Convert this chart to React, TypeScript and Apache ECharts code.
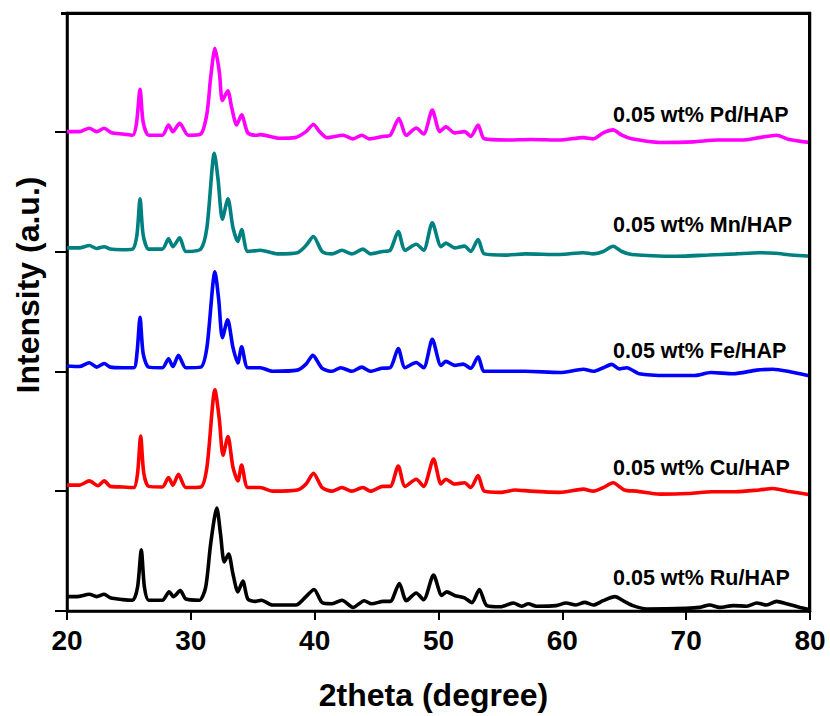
import React, { useEffect, useRef } from "react";
import * as echarts from "echarts";

const seriesNames = [
  "0.05 wt% Ru/HAP",
  "0.05 wt% Cu/HAP",
  "0.05 wt% Fe/HAP",
  "0.05 wt% Mn/HAP",
  "0.05 wt% Pd/HAP",
];
const seriesColors = ["#000000", "#FF0000", "#0000FF", "#008080", "#FF00FF"];
const offsets = [0, 1, 2, 3, 4];
const xTicks = [20, 30, 40, 50, 60, 70, 80];

const ru: number[][] = [
  [20, 0.12], [20.8, 0.12], [21.8, 0.14], [22.4, 0.12], [23.0, 0.14], [23.5, 0.11], [24.5, 0.095], [25.3, 0.09],
  [25.7, 0.2], [26.0, 0.51], [26.25, 0.2], [26.6, 0.09], [27.7, 0.09], [28.25, 0.16], [28.6, 0.12], [29.15, 0.17],
  [29.6, 0.1], [30.7, 0.09], [31.2, 0.2], [31.6, 0.56], [32.1, 0.86], [32.4, 0.64], [32.7, 0.41], [33.05, 0.475],
  [33.4, 0.31], [33.8, 0.16], [34.2, 0.25], [34.6, 0.1], [35.2, 0.08], [35.7, 0.09], [36.6, 0.05], [38.5, 0.05],
  [39.3, 0.12], [39.95, 0.18], [40.6, 0.07], [41.4, 0.06], [42.2, 0.09], [43.1, 0.03], [44.0, 0.086], [44.6, 0.06],
  [45.55, 0.08], [46.1, 0.08], [46.84, 0.23], [47.4, 0.086], [48.2, 0.15], [48.8, 0.094], [49.6, 0.3], [50.26, 0.13],
  [50.66, 0.16], [51.3, 0.13], [52.1, 0.11], [52.7, 0.07], [53.3, 0.18], [53.9, 0.045], [55.0, 0.035], [56.05, 0.067],
  [56.7, 0.04], [57.25, 0.06], [57.9, 0.04], [59.5, 0.045], [60.3, 0.067], [61.1, 0.05], [61.8, 0.072], [62.5, 0.05],
  [63.3, 0.086], [64.25, 0.12], [65.0, 0.08], [65.7, 0.045], [66.8, 0.017], [70.0, 0.022], [71.1, 0.03], [71.9, 0.05],
  [72.7, 0.03], [73.8, 0.045], [74.9, 0.04], [75.7, 0.067], [76.5, 0.05], [77.3, 0.08], [78.1, 0.06], [79.2, 0.03],
  [80, 0.01],
];

const cu: number[][] = [
  [20, 0.05], [21.0, 0.05], [21.8, 0.086], [22.5, 0.045], [23.0, 0.086], [23.5, 0.04], [24.5, 0.035], [25.4, 0.03],
  [25.7, 0.15], [25.95, 0.46], [26.2, 0.15], [26.6, 0.04], [27.7, 0.035], [28.2, 0.114], [28.55, 0.05], [29.0, 0.14],
  [29.6, 0.03], [30.8, 0.035], [31.3, 0.2], [31.95, 0.845], [32.3, 0.6], [32.6, 0.3], [33.0, 0.456], [33.4, 0.2],
  [33.8, 0.086], [34.1, 0.217], [34.6, 0.03], [35.6, 0.03], [36.6, 0.0], [38.6, 0.01], [39.3, 0.06], [39.9, 0.15],
  [40.6, 0.03], [41.4, 0.0], [42.2, 0.03], [43.0, 0.0], [43.9, 0.03], [44.5, 0.0], [45.5, 0.04], [46.1, 0.04],
  [46.75, 0.21], [47.3, 0.04], [48.2, 0.1], [48.8, 0.04], [49.6, 0.267], [50.2, 0.06], [50.6, 0.1], [51.3, 0.06],
  [52.1, 0.07], [52.6, 0.03], [53.2, 0.13], [53.7, 0.0], [55.0, -0.01], [56.2, 0.01], [57.4, 0.0], [59.8, -0.01],
  [61.7, 0.017], [62.5, 0.0], [63.3, 0.03], [64.1, 0.07], [65.0, 0.01], [66.0, 0.0], [67.9, -0.025], [70.2, -0.02],
  [72.1, -0.005], [74.0, -0.005], [75.9, 0.01], [77.0, 0.022], [78.2, 0.0], [80, -0.03],
];

const fe: number[][] = [
  [20, 0.045], [21.0, 0.04], [21.8, 0.072], [22.4, 0.035], [23.0, 0.065], [23.5, 0.035], [24.5, 0.03], [25.4, 0.03],
  [25.65, 0.15], [25.9, 0.45], [26.15, 0.15], [26.6, 0.035], [27.7, 0.03], [28.2, 0.105], [28.55, 0.04], [29.0, 0.133],
  [29.6, 0.03], [30.8, 0.035], [31.3, 0.2], [31.95, 0.83], [32.25, 0.6], [32.55, 0.28], [32.97, 0.43], [33.4, 0.2],
  [33.8, 0.07], [34.1, 0.205], [34.6, 0.03], [35.6, 0.03], [36.6, 0.0], [38.6, 0.01], [39.3, 0.06], [39.85, 0.133],
  [40.6, 0.025], [41.4, 0.0], [42.1, 0.03], [43.0, 0.0], [43.8, 0.035], [44.5, 0.0], [45.4, 0.025], [46.1, 0.03],
  [46.75, 0.19], [47.3, 0.03], [48.2, 0.074], [48.8, 0.03], [49.5, 0.267], [50.2, 0.05], [50.6, 0.083], [51.3, 0.05],
  [52.0, 0.06], [52.6, 0.025], [53.2, 0.122], [53.7, 0.0], [55.5, 0.0], [57.0, 0.0], [59.8, -0.01], [61.7, 0.017],
  [62.5, 0.0], [63.3, 0.03], [64.0, 0.058], [64.6, 0.02], [65.2, 0.03], [66.2, -0.02], [68.5, -0.035], [70.7, -0.035],
  [72.0, -0.01], [73.8, -0.02], [75.7, 0.01], [77.0, 0.017], [78.2, 0.0], [80, -0.04],
];

const mn: number[][] = [
  [20, 0.03], [21.0, 0.03], [21.8, 0.05], [22.4, 0.025], [23.0, 0.04], [23.5, 0.02], [24.5, 0.015], [25.3, 0.02],
  [25.65, 0.14], [25.9, 0.44], [26.15, 0.14], [26.6, 0.02], [27.7, 0.02], [28.2, 0.105], [28.55, 0.04], [29.1, 0.114],
  [29.6, 0.0], [30.8, 0.02], [31.3, 0.2], [31.9, 0.82], [32.2, 0.6], [32.55, 0.27], [33.0, 0.44], [33.4, 0.2],
  [33.8, 0.083], [34.1, 0.183], [34.6, 0.0], [35.6, 0.01], [37.0, -0.02], [38.6, -0.01], [39.3, 0.05], [39.9, 0.125],
  [40.6, 0.0], [41.4, -0.02], [42.2, 0.01], [43.0, -0.02], [43.9, 0.02], [44.5, -0.02], [45.5, 0.0], [46.1, 0.01],
  [46.75, 0.167], [47.3, 0.01], [48.2, 0.06], [48.8, 0.01], [49.5, 0.24], [50.2, 0.04], [50.6, 0.07], [51.3, 0.03],
  [52.1, 0.045], [52.6, 0.0], [53.2, 0.1], [53.7, -0.02], [55.5, -0.03], [57.0, -0.02], [59.8, -0.025], [61.7, -0.01],
  [62.5, -0.02], [63.3, 0.0], [64.1, 0.044], [64.8, 0.0], [65.6, -0.025], [69.2, -0.04], [71.8, -0.03], [74.0, -0.02],
  [75.9, -0.01], [77.2, -0.015], [78.5, -0.03], [80, -0.04],
];

const pd: number[][] = [
  [20, 0.0], [21.0, 0.0], [21.8, 0.028], [22.4, 0.0], [23.0, 0.028], [23.6, -0.01], [24.5, -0.02], [25.3, -0.03],
  [25.6, 0.06], [25.9, 0.353], [26.15, 0.08], [26.6, -0.03], [27.7, -0.03], [28.2, 0.056], [28.55, 0.0], [29.1, 0.07],
  [29.8, -0.03], [30.8, -0.02], [31.3, 0.15], [31.6, 0.45], [31.95, 0.695], [32.3, 0.5], [32.55, 0.26], [32.98, 0.34],
  [33.3, 0.2], [33.7, 0.056], [34.1, 0.14], [34.6, -0.01], [35.3, -0.03], [35.6, -0.025], [37.2, -0.055], [38.4, -0.05],
  [39.3, 0.0], [39.9, 0.06], [40.4, 0.0], [41.0, -0.05], [42.3, -0.03], [43.1, -0.06], [43.8, -0.03], [44.4, -0.06],
  [45.5, -0.04], [46.1, -0.03], [46.8, 0.11], [47.4, -0.03], [48.2, 0.03], [48.8, -0.02], [49.5, 0.18], [50.1, 0.0],
  [50.6, 0.04], [51.3, -0.01], [52.1, 0.0], [52.6, -0.04], [53.2, 0.055], [53.7, -0.06], [55.5, -0.07], [57.5, -0.065],
  [59.8, -0.07], [61.7, -0.05], [62.5, -0.06], [63.3, -0.01], [64.1, 0.015], [64.8, -0.03], [65.6, -0.06], [67.9, -0.09],
  [70.6, -0.085], [72.5, -0.07], [74.5, -0.07], [75.9, -0.05], [77.3, -0.03], [78.3, -0.065], [80, -0.09],
];

const patterns = [ru, cu, fe, mn, pd];
const labelY = [578, 468, 351, 225, 115];

const FONT = "'Liberation Sans', Arial, sans-serif";

export default function App() {
  const ref = useRef<HTMLDivElement>(null);
  useEffect(() => {
    if (!ref.current) return;
    const chart = echarts.init(ref.current, undefined, { renderer: "svg" });
    const series = patterns.map((p, i) => ({
      type: "line",
      name: seriesNames[i],
      data: p.map((d) => [d[0], d[1] + offsets[i]]),
      showSymbol: false,
      smooth: 0.25,
      lineStyle: { color: seriesColors[i], width: 3.6 },
      itemStyle: { color: seriesColors[i] },
      z: 2,
    }));
    chart.setOption({
      animation: false,
      backgroundColor: "#ffffff",
      grid: {
        left: 67,
        right: 20,
        top: 13,
        bottom: 104,
        containLabel: false,
        show: true,
        borderColor: "#000000",
        borderWidth: 2.5,
      },
      xAxis: {
        type: "value",
        min: 20,
        max: 80,
        interval: 10,
        name: "2theta (degree)",
        nameLocation: "middle",
        nameGap: 68,
        nameTextStyle: { fontFamily: FONT, fontWeight: "bold", fontSize: 32, color: "#000", padding: [0, 10, 0, 0] },
        axisLine: { onZero: false, lineStyle: { color: "#000", width: 2.5 } },
        axisTick: { show: true, inside: false, length: 9, lineStyle: { color: "#000", width: 2 } },
        axisLabel: {
          fontFamily: FONT,
          fontWeight: "bold",
          fontSize: 28,
          color: "#000",
          margin: 15,
          formatter: (v: number) => (xTicks.includes(v) ? String(v) : ""),
        },
        splitLine: { show: false },
      },
      yAxis: {
        type: "value",
        min: 0,
        max: 4.99,
        interval: 1,
        axisLine: { show: true, onZero: false, lineStyle: { color: "#000", width: 2.5 } },
        axisTick: {
          show: true,
          inside: false,
          length: 12,
          customValues: offsets,
          lineStyle: { color: "#000", width: 2 },
        },
        axisLabel: { show: false },
        splitLine: { show: false },
      },
      series,
      graphic: [
        {
          type: "rect",
          z: 100,
          silent: true,
          shape: { x: 61, y: 12, width: 750, height: 3 },
          style: { fill: "#000000" },
        },
        {
          type: "rect",
          z: 100,
          silent: true,
          shape: { x: 808, y: 12, width: 3, height: 601 },
          style: { fill: "#000000" },
        },
        {
          type: "text",
          x: 28,
          y: 285,
          rotation: Math.PI / 2,
          style: {
            text: "Intensity (a.u.)",
            fontFamily: FONT,
            fontWeight: "bold",
            fontSize: 32,
            fill: "#000",
            align: "center",
            verticalAlign: "middle",
          },
        },
        ...seriesNames.map((n, i) => ({
          type: "text",
          x: 613,
          y: labelY[i],
          style: {
            text: n,
            fontFamily: FONT,
            fontWeight: "bold",
            fontSize: 21.5,
            fill: "#000",
            align: "left",
            verticalAlign: "middle",
          },
        })),
      ],
    });
    return () => chart.dispose();
  }, []);
  return <div ref={ref} style={{ width: 830, height: 716, position: "absolute", left: 0, top: 0 }} />;
}
